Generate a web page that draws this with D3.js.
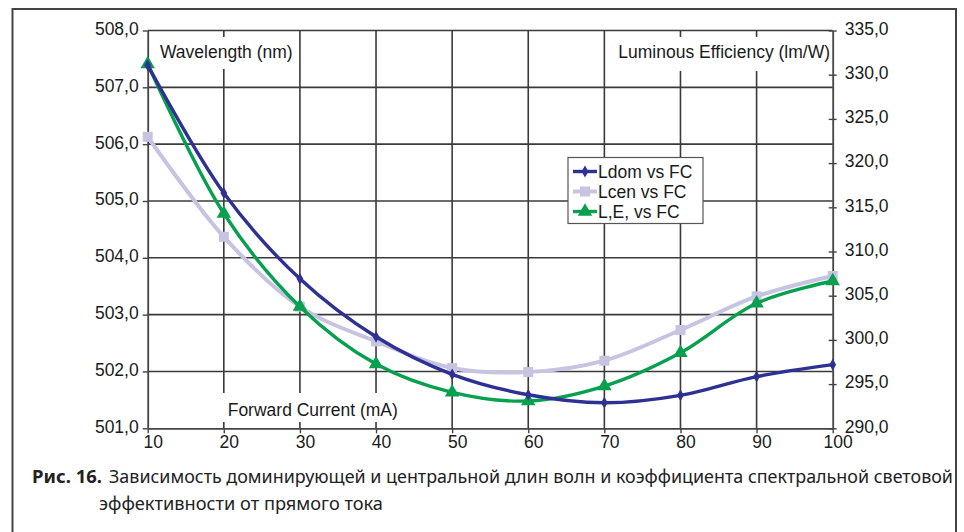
<!DOCTYPE html>
<html>
<head>
<meta charset="utf-8">
<script src="https://cdn.jsdelivr.net/npm/d3@7"></script>
<style>
  html, body { margin: 0; padding: 0; background: #fff; }
  svg { display: block; }
  .lbl { font-family: "Liberation Sans", Arial, sans-serif; font-size: 17.5px; fill: #1a1a1a; }
  .cap { font-family: "Noto Sans", "Open Sans", sans-serif; font-size: 18px; fill: #222; }
</style>
</head>
<body>
<svg id="chart" width="964" height="532"></svg>
<script>
// Forward current, mA
const currents = [10, 20, 30, 40, 50, 60, 70, 80, 90, 100];
// Dominant wavelength, nm (left axis)
const ldom = [507.39, 505.14, 503.63, 502.61, 501.95, 501.59, 501.45, 501.58, 501.91, 502.12];
// Centroid wavelength, nm (left axis)
const lcen = [506.13, 504.37, 503.14, 502.53, 502.06, 501.99, 502.19, 502.73, 503.32, 503.68];
// Luminous efficiency, lm/W (right axis)
const lumEff = [331.2, 314.3, 303.76, 297.27, 294.07, 293.09, 294.78, 298.55, 304.14, 306.66];

const xTicks = [10, 20, 30, 40, 50, 60, 70, 80, 90, 100];
const wlTicks = [501, 502, 503, 504, 505, 506, 507, 508];
const effTicks = [290, 295, 300, 305, 310, 315, 320, 325, 330, 335];

const seriesNames = ["Ldom vs FC", "Lcen vs FC", "L,E, vs FC"];

const svg = d3.select("#chart");
const fmt = d => d3.format(".1f")(d).replace(".", ",");

const x = d3.scaleLinear().domain([10, 100]).range([147.7, 832.7]);
const yL = d3.scaleLinear().domain([501, 508]).range([428.3, 30.5]);
const yR = d3.scaleLinear().domain([290, 335]).range([428.3, 30.5]);

const gridColor = "#3a3a3a";

// outer frame (open at the bottom)
svg.append("path")
  .attr("d", "M12.5,532 V9 H956 V532")
  .attr("fill", "none").attr("stroke", "#444").attr("stroke-width", 2);

// grid
const grid = svg.append("g");
grid.selectAll("line.h").data(wlTicks.slice(1)).join("line")
  .attr("x1", x(10)).attr("x2", x(100))
  .attr("y1", d => yL(d)).attr("y2", d => yL(d))
  .attr("stroke", gridColor).attr("stroke-width", 1.6);
grid.selectAll("line.v").data(xTicks.slice(1, -1)).join("line")
  .attr("x1", d => x(d)).attr("x2", d => x(d))
  .attr("y1", yL(508)).attr("y2", yL(501))
  .attr("stroke", gridColor).attr("stroke-width", 1.6);

// axes
function styleAxis(g) {
  g.select(".domain").attr("stroke", "#444").attr("stroke-width", 1.8);
  g.selectAll(".tick line").attr("stroke", "#444").attr("stroke-width", 1.4);
  g.selectAll(".tick text").attr("class", "lbl").attr("fill", "#1a1a1a")
    .style("font-family", '"Liberation Sans", Arial, sans-serif').style("font-size", "17.5px");
}

const axL = svg.append("g").attr("transform", `translate(${x(10)},0)`)
  .call(d3.axisLeft(yL).tickValues(wlTicks).tickFormat(fmt).tickSize(5).tickPadding(4).tickSizeOuter(0));
styleAxis(axL);
axL.selectAll(".tick text").attr("dy", "0.22em");

const axR = svg.append("g").attr("transform", `translate(${x(100)},0)`)
  .call(d3.axisRight(yR).tickValues(effTicks).tickFormat(fmt).tickSize(4).tickPadding(8).tickSizeOuter(0));
styleAxis(axR);
axR.selectAll(".tick line").attr("x1", -4).attr("x2", 4);
axR.selectAll(".tick text").attr("dy", "0.22em");

const axB = svg.append("g").attr("transform", `translate(0,${yL(501)})`)
  .call(d3.axisBottom(x).tickValues(xTicks).tickFormat(d3.format("d")).tickSize(5).tickPadding(2).tickSizeOuter(0));
styleAxis(axB);
axB.selectAll(".tick text").attr("dx", 5);

// axis titles on white plates
const titles = [
  { text: "Wavelength (nm)", tx: 160, ty: 58, anchor: "start", box: [150, 37, 148, 32] },
  { text: "Luminous Efficiency (lm/W)", tx: 830, ty: 58, anchor: "end", box: [612, 37, 217, 34] },
  { text: "Forward Current (mA)", tx: 227.7, ty: 416, anchor: "start", box: [219, 393, 186, 29] }
];
titles.forEach(t => {
  svg.append("rect").attr("x", t.box[0]).attr("y", t.box[1])
    .attr("width", t.box[2]).attr("height", t.box[3]).attr("fill", "#fff");
  svg.append("text").attr("class", "lbl").attr("x", t.tx).attr("y", t.ty)
    .attr("text-anchor", t.anchor).text(t.text);
});

// series
const series = [
  { name: seriesNames[0], values: ldom, y: yL, color: "#2e3192", width: 3.4, sym: d3.symbolDiamond, size: 40 },
  { name: seriesNames[1], values: lcen, y: yL, color: "#c6c4e1", width: 4, sym: d3.symbolSquare, size: 100 },
  { name: seriesNames[2], values: lumEff, y: yR, color: "#07a04f", width: 3.4, sym: d3.symbolTriangle, size: 90 }
];

const drawOrder = [1, 2, 0];
drawOrder.forEach(i => {
  const s = series[i];
  const pts = currents.map((c, k) => [x(c), s.y(s.values[k])]);
  svg.append("path")
    .attr("d", d3.line().curve(d3.curveCatmullRom.alpha(0.5))(pts))
    .attr("fill", "none").attr("stroke", s.color).attr("stroke-width", s.width)
    .attr("stroke-linejoin", "round");
  svg.append("g").selectAll("path").data(pts).join("path")
    .attr("transform", d => `translate(${d[0]},${d[1]})`)
    .attr("d", d3.symbol().type(s.sym).size(s.size))
    .attr("fill", s.color);
});

// legend
const lg = svg.append("g");
lg.append("rect").attr("x", 568).attr("y", 157.5).attr("width", 135).attr("height", 66)
  .attr("fill", "#fff").attr("stroke", "#555").attr("stroke-width", 1.2);
series.forEach((s, i) => {
  const cy = 171.5 + i * 20;
  lg.append("line").attr("x1", 573).attr("x2", 597).attr("y1", cy).attr("y2", cy)
    .attr("stroke", s.color).attr("stroke-width", s.width);
  lg.append("path").attr("transform", `translate(585,${cy})`)
    .attr("d", d3.symbol().type(s.sym).size(s.size)).attr("fill", s.color);
  lg.append("text").attr("class", "lbl").attr("x", 598).attr("y", cy + 6.5).text(s.name);
});

// caption
svg.append("text").attr("class", "cap").attr("x", 32).attr("y", 483)
  .attr("font-weight", "bold").attr("textLength", 70).attr("lengthAdjust", "spacingAndGlyphs")
  .text("Рис. 16.");
svg.append("text").attr("class", "cap").attr("x", 109).attr("y", 483)
  .attr("textLength", 844).attr("lengthAdjust", "spacingAndGlyphs")
  .text("Зависимость доминирующей и центральной длин волн и коэффициента спектральной световой");
svg.append("text").attr("class", "cap").attr("x", 99).attr("y", 510)
  .attr("textLength", 284).attr("lengthAdjust", "spacingAndGlyphs")
  .text("эффективности от прямого тока");
</script>
</body>
</html>
